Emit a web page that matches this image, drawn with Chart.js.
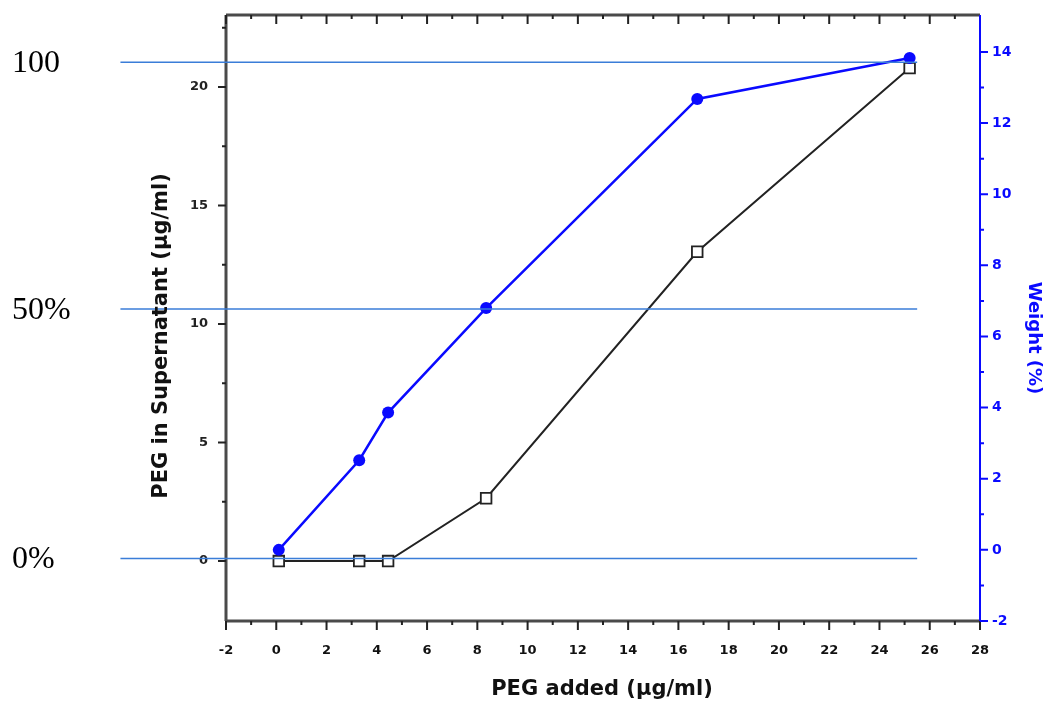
<!DOCTYPE html>
<html>
<head>
<meta charset="utf-8">
<script src="https://cdn.jsdelivr.net/npm/chart.js@4/dist/chart.umd.min.js"></script>
<style>
  body { margin: 0; background: #fff; }
  #wrap { width: 1048px; height: 704px; position: relative; }
</style>
</head>
<body>
<div id="wrap"><canvas id="pegChart"></canvas></div>
<script>
// Veriler
const pegAdded = [0.1, 3.3, 4.45, 8.35, 16.75, 25.2];
const pegSupernatant = [0, 0, 0, 2.65, 13.05, 20.8];
const weightPct = [0, 2.52, 3.86, 6.8, 12.68, 13.83];

// Eksen işaretleri
const xTicks = [-2, 0, 2, 4, 6, 8, 10, 12, 14, 16, 18, 20, 22, 24, 26, 28];
const xMinor = [-1, 1, 3, 5, 7, 9, 11, 13, 15, 17, 19, 21, 23, 25, 27];
const leftTicks = [0, 5, 10, 15, 20];
const leftMinor = [2.5, 7.5, 12.5, 17.5, 22.5];
const rightTicks = [-2, 0, 2, 4, 6, 8, 10, 12, 14];
const rightMinor = [-1, 1, 3, 5, 7, 9, 11, 13];

// Yatay referans çizgileri (sağ eksen değerleri) ve etiketleri
const refLevels = [13.71, 6.77, -0.24];
const refLabels = ["100", "50%", "0%"];
const refStartX = -6.2; // x ekseni değeri
const refEndX = 25.5;

const BLUE = "#0a0aff";
const AXIS_GRAY = "#4a4a4a";
const REF_BLUE = "#3a7dd8";

// Eksen çizgileri, küçük/büyük işaretler ve başlıklar için eklenti
const axisFrame = {
    id: "axisFrame",
    beforeDatasetsDraw(chart) {
        const { ctx, chartArea: a, scales } = chart;
        const x = scales.x, y = scales.y, y1 = scales.y1;
        ctx.save();
        ctx.lineCap = "butt";

        // sol, alt, üst eksenler
        ctx.strokeStyle = AXIS_GRAY;
        ctx.lineWidth = 3;
        ctx.beginPath();
        ctx.moveTo(a.left, a.top);
        ctx.lineTo(a.left, a.bottom);
        ctx.moveTo(a.left, a.bottom);
        ctx.lineTo(a.right, a.bottom);
        ctx.moveTo(a.left, a.top);
        ctx.lineTo(a.right, a.top);
        ctx.stroke();

        // x işaretleri: altta dışa, üstte içe
        ctx.lineWidth = 2;
        ctx.strokeStyle = "#222";
        ctx.beginPath();
        xTicks.forEach(v => {
            const px = x.getPixelForValue(v);
            ctx.moveTo(px, a.bottom);
            ctx.lineTo(px, a.bottom + 9);
            ctx.moveTo(px, a.top);
            ctx.lineTo(px, a.top + 9);
        });
        xMinor.forEach(v => {
            const px = x.getPixelForValue(v);
            ctx.moveTo(px, a.bottom);
            ctx.lineTo(px, a.bottom + 4);
            ctx.moveTo(px, a.top);
            ctx.lineTo(px, a.top + 4);
        });
        // sol eksen işaretleri
        leftTicks.forEach(v => {
            const py = y.getPixelForValue(v);
            ctx.moveTo(a.left, py);
            ctx.lineTo(a.left - 8, py);
        });
        leftMinor.forEach(v => {
            const py = y.getPixelForValue(v);
            ctx.moveTo(a.left, py);
            ctx.lineTo(a.left - 4, py);
        });
        ctx.stroke();

        // sağ eksen (mavi)
        ctx.strokeStyle = BLUE;
        ctx.lineWidth = 2;
        ctx.beginPath();
        ctx.moveTo(a.right, a.top);
        ctx.lineTo(a.right, a.bottom);
        rightTicks.forEach(v => {
            const py = y1.getPixelForValue(v);
            ctx.moveTo(a.right, py);
            ctx.lineTo(a.right + 8, py);
        });
        rightMinor.forEach(v => {
            const py = y1.getPixelForValue(v);
            ctx.moveTo(a.right, py);
            ctx.lineTo(a.right + 4, py);
        });
        ctx.stroke();
        ctx.restore();
    },
    afterDatasetsDraw(chart) {
        const { ctx, scales } = chart;
        const x = scales.x, y1 = scales.y1;
        ctx.save();
        ctx.strokeStyle = REF_BLUE;
        ctx.lineWidth = 1.5;
        ctx.fillStyle = "#000";
        ctx.font = "32px 'Liberation Serif', serif";
        ctx.textBaseline = "middle";
        ctx.textAlign = "left";
        refLevels.forEach((lv, i) => {
            const py = y1.getPixelForValue(lv);
            ctx.beginPath();
            ctx.moveTo(x.getPixelForValue(refStartX), py);
            ctx.lineTo(x.getPixelForValue(refEndX), py);
            ctx.stroke();
            ctx.fillText(refLabels[i], 12, py + 1);
        });
        ctx.restore();
    },
    afterDraw(chart) {
        const { ctx, chartArea: a } = chart;
        ctx.save();
        ctx.textAlign = "center";
        ctx.textBaseline = "middle";

        // x başlığı
        ctx.fillStyle = "#111";
        ctx.font = "bold 21px 'DejaVu Sans', sans-serif";
        ctx.fillText("PEG added (µg/ml)", (a.left + a.right) / 2 - 1, 690);

        // sol başlık
        ctx.save();
        ctx.translate(162, 336);
        ctx.rotate(-Math.PI / 2);
        ctx.font = "bold 21px 'DejaVu Sans', sans-serif";
        ctx.fillText("PEG in Supernatant (µg/ml)", 0, 0);
        ctx.restore();

        // sağ başlık
        ctx.save();
        ctx.translate(1034, 338);
        ctx.rotate(Math.PI / 2);
        ctx.fillStyle = BLUE;
        ctx.font = "bold 18px 'DejaVu Sans', sans-serif";
        ctx.fillText("Weight (%)", 0, 0);
        ctx.restore();

        ctx.restore();
    }
};

const toPoints = (xs, ys) => xs.map((v, i) => ({ x: v, y: ys[i] }));

// Eksen boyutlarını sabitleyen yardımcı (grafik alanı 226..980 x 15..621)
const fixBox = (w, h) => s => {
    if (w !== null) s.width = w;
    if (h !== null) s.height = h;
    s.paddingTop = 0;
    s.paddingBottom = 0;
    s.paddingLeft = 0;
    s.paddingRight = 0;
};

new Chart(document.getElementById("pegChart"), {
    type: "line",
    data: {
        datasets: [
            {
                label: "Weight (%)",
                data: toPoints(pegAdded, weightPct),
                yAxisID: "y1",
                borderColor: BLUE,
                backgroundColor: BLUE,
                borderWidth: 2.5,
                pointStyle: "circle",
                pointRadius: 6,
                pointBorderWidth: 0,
                pointBackgroundColor: BLUE,
                tension: 0,
            },
            {
                label: "PEG in Supernatant",
                data: toPoints(pegAdded, pegSupernatant),
                yAxisID: "y",
                borderColor: "#222",
                borderWidth: 2,
                pointStyle: "rect",
                pointRadius: 7.5,
                pointBorderWidth: 1.8,
                pointBorderColor: "#222",
                pointBackgroundColor: "#fff",
                tension: 0,
            },
        ],
    },
    options: {
        responsive: true,
        maintainAspectRatio: false,
        animation: false,
        layout: { padding: { top: 15, left: 0, right: 0, bottom: 0 } },
        plugins: { legend: { display: false }, tooltip: { enabled: false } },
        scales: {
            x: {
                type: "linear",
                min: -2,
                max: 28,
                afterBuildTicks: s => { s.ticks = xTicks.map(v => ({ value: v })); },
                afterFit: fixBox(null, 83),
                grid: { display: false, drawTicks: false },
                border: { display: false },
                ticks: {
                    color: "#111",
                    padding: 22,
                    font: { family: "'DejaVu Sans', sans-serif", size: 13, weight: "bold" },
                },
            },
            y: {
                position: "left",
                min: -2.53,
                max: 23.04,
                afterBuildTicks: s => { s.ticks = leftTicks.map(v => ({ value: v })); },
                afterFit: fixBox(226, null),
                grid: { display: false, drawTicks: false },
                border: { display: false },
                ticks: {
                    color: "#222",
                    padding: 18,
                    font: { family: "'DejaVu Sans', sans-serif", size: 13, weight: "bold" },
                },
            },
            y1: {
                position: "right",
                min: -2,
                max: 15.04,
                afterBuildTicks: s => { s.ticks = rightTicks.map(v => ({ value: v })); },
                afterFit: fixBox(68, null),
                grid: { display: false, drawTicks: false },
                border: { display: false },
                ticks: {
                    color: BLUE,
                    padding: 12,
                    font: { family: "'DejaVu Sans', sans-serif", size: 14, weight: "bold" },
                },
            },
        },
    },
    plugins: [axisFrame],
});
</script>
</body>
</html>
